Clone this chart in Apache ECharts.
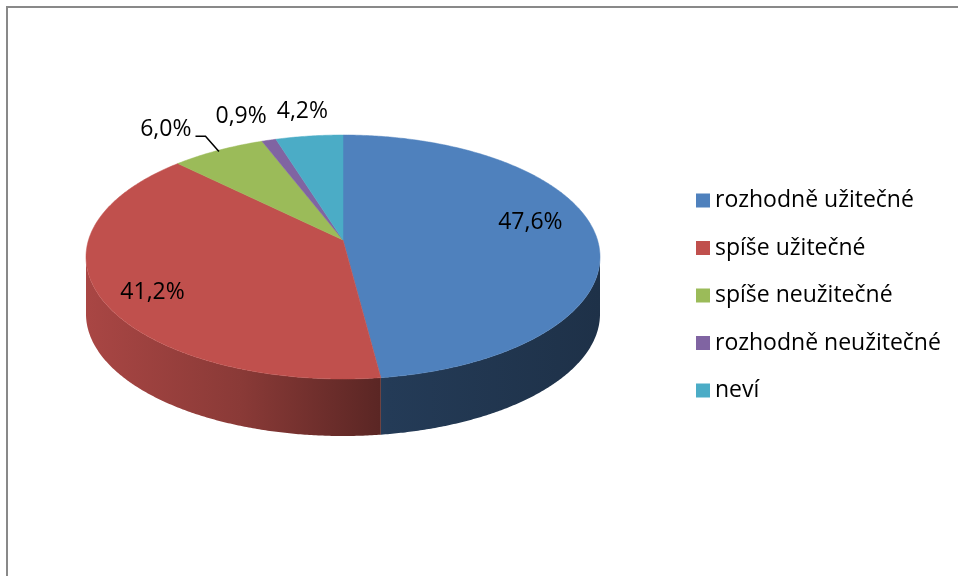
<!DOCTYPE html>
<html>
<head>
<meta charset="utf-8">
<script src="https://cdn.jsdelivr.net/npm/echarts@6/dist/echarts.min.js"></script>
<style>
  html, body { margin: 0; padding: 0; background: #fff; }
  #chart { width: 958px; height: 576px; }
</style>
</head>
<body>
<div id="chart"></div>
<script>
// data
const categories = ['rozhodně užitečné', 'spíše užitečné', 'spíše neužitečné', 'rozhodně neužitečné', 'neví'];
const shares = [47.6, 41.2, 6.0, 0.9, 4.2];
const colors = ['#4f81bd', '#c0504d', '#9bbb59', '#8064a2', '#4bacc6'];

// pie geometry (tilted 3D look)
const CX = 343, CY = 257, RX = 257, RY = 122, DEPTH = 57, APEX = -17;
const FONT_FAMILY = 'Open Sans';
const FONT_SIZE = 23;
const FONT = FONT_SIZE + 'px "' + FONT_FAMILY + '"';

const total = shares.reduce((a, b) => a + b, 0);
const startAngle = i => shares.slice(0, i).reduce((a, b) => a + b, 0) / total * 360;
const endAngle = i => startAngle(i) + shares[i] / total * 360;

function rim(deg, k = 1) {
    const r = deg * Math.PI / 180;
    return [CX + RX * k * Math.sin(r), CY - RY * k * Math.cos(r)];
}

function fmt(v) {
    return v.toFixed(1).replace('.', ',') + '%';
}

function shade(hex, f) {
    const n = parseInt(hex.slice(1), 16);
    const c = [(n >> 16) & 255, (n >> 8) & 255, n & 255].map(v => Math.round(v * f));
    return `rgb(${c[0]},${c[1]},${c[2]})`;
}

const measure = (() => {
    const ctx = document.createElement('canvas').getContext('2d');
    ctx.font = FONT;
    return t => ctx.measureText(t).width;
})();

// label layout: big slices inside, small ones outside pushed apart to the left
function layoutLabels() {
    const out = [];
    shares.forEach((v, i) => {
        const mid = (startAngle(i) + endAngle(i)) / 2;
        const r = mid * Math.PI / 180;
        if (v >= 10) {
            out[i] = {
                x: CX - 10 + RX * 0.77 * Math.sin(r),
                y: CY + APEX - 7 - RY * 1.19 * Math.cos(r),
                inside: true, mid
            };
        } else {
            const p = rim(mid, 1.2);
            out[i] = { x: p[0], y: p[1], inside: false, mid };
        }
    });
    let limit = Infinity;
    for (let i = shares.length - 1; i >= 0; i--) {
        const l = out[i];
        if (l.inside) continue;
        const w = measure(fmt(shares[i]));
        l.w = w;
        if (l.x + w / 2 > limit - 10) l.x = limit - 10 - w / 2;
        // slice clearly no longer under its label: make room for a leader line
        if (rim(l.mid)[0] > l.x + w / 2 + 6) {
            l.leader = true;
            l.x -= 14;
        }
        limit = l.x - w / 2;
    }
    return out;
}
const labels = layoutLabels();

function renderSlice(params, api) {
    const i = params.seriesIndex;
    const a0 = startAngle(i);
    const a1 = a0 + api.value(0) / total * 360;
    const color = api.visual('color');
    const children = [];

    // top face
    const top = [[CX, CY + APEX]];
    for (let t = a0; t < a1; t += 0.5) top.push(rim(t));
    top.push(rim(a1));
    children.push({
        type: 'polygon', z2: 5,
        shape: { points: top },
        style: { fill: color, stroke: color, lineWidth: 0.5 }
    });

    // front wall
    const s0 = Math.max(a0, 90), s1 = Math.min(a1, 270);
    if (s1 > s0) {
        const upper = [];
        for (let t = s0; t < s1; t += 0.5) upper.push(rim(t));
        upper.push(rim(s1));
        const lower = upper.map(p => [p[0], p[1] + DEPTH]).reverse();
        children.push({
            type: 'polygon', z2: 1,
            shape: { points: upper.concat(lower) },
            style: {
                fill: {
                    type: 'linear', global: true,
                    x: CX - RX, y: 0, x2: CX + RX, y2: 0,
                    colorStops: [
                        { offset: 0, color: shade(colors[i], 0.88) },
                        { offset: 0.3, color: shade(colors[i], 0.72) },
                        { offset: 0.586, color: shade(colors[i], 0.46) },
                        { offset: 1, color: shade(colors[i], 0.38) }
                    ]
                }
            }
        });
    }

    // label
    const l = labels[i];
    children.push({
        type: 'text', z2: 10,
        style: {
            text: fmt(api.value(0)), x: l.x, y: l.y,
            align: 'center', verticalAlign: 'middle',
            font: FONT, fill: '#000'
        }
    });
    if (l.leader) {
        const right = l.x + l.w / 2;
        children.push({
            type: 'polyline', z2: 10,
            shape: { points: [[right + 4, l.y + 7], [right + 14, l.y + 7], rim(l.mid, 0.99)] },
            style: { stroke: '#000', lineWidth: 1.5, fill: null }
        });
    }
    return { type: 'group', children };
}

const chart = echarts.init(document.getElementById('chart'), null, { renderer: 'canvas' });

chart.setOption({
    backgroundColor: '#fff',
    animation: false,
    graphic: [{
        type: 'rect', silent: true,
        shape: { x: 7, y: 7, width: 1000, height: 1000 },
        style: { fill: 'none', stroke: '#898989', lineWidth: 2 }
    }],
    legend: {
        orient: 'vertical',
        left: 691, top: 184,
        icon: 'rect', itemWidth: 14, itemHeight: 14,
        itemGap: 24.5,
        data: categories,
        textStyle: { fontFamily: FONT_FAMILY, fontSize: FONT_SIZE, color: '#000' }
    },
    series: categories.map((name, i) => ({
        name,
        type: 'custom',
        coordinateSystem: 'none',
        itemStyle: { color: colors[i] },
        renderItem: renderSlice,
        data: [[shares[i]]]
    }))
});
</script>
</body>
</html>
